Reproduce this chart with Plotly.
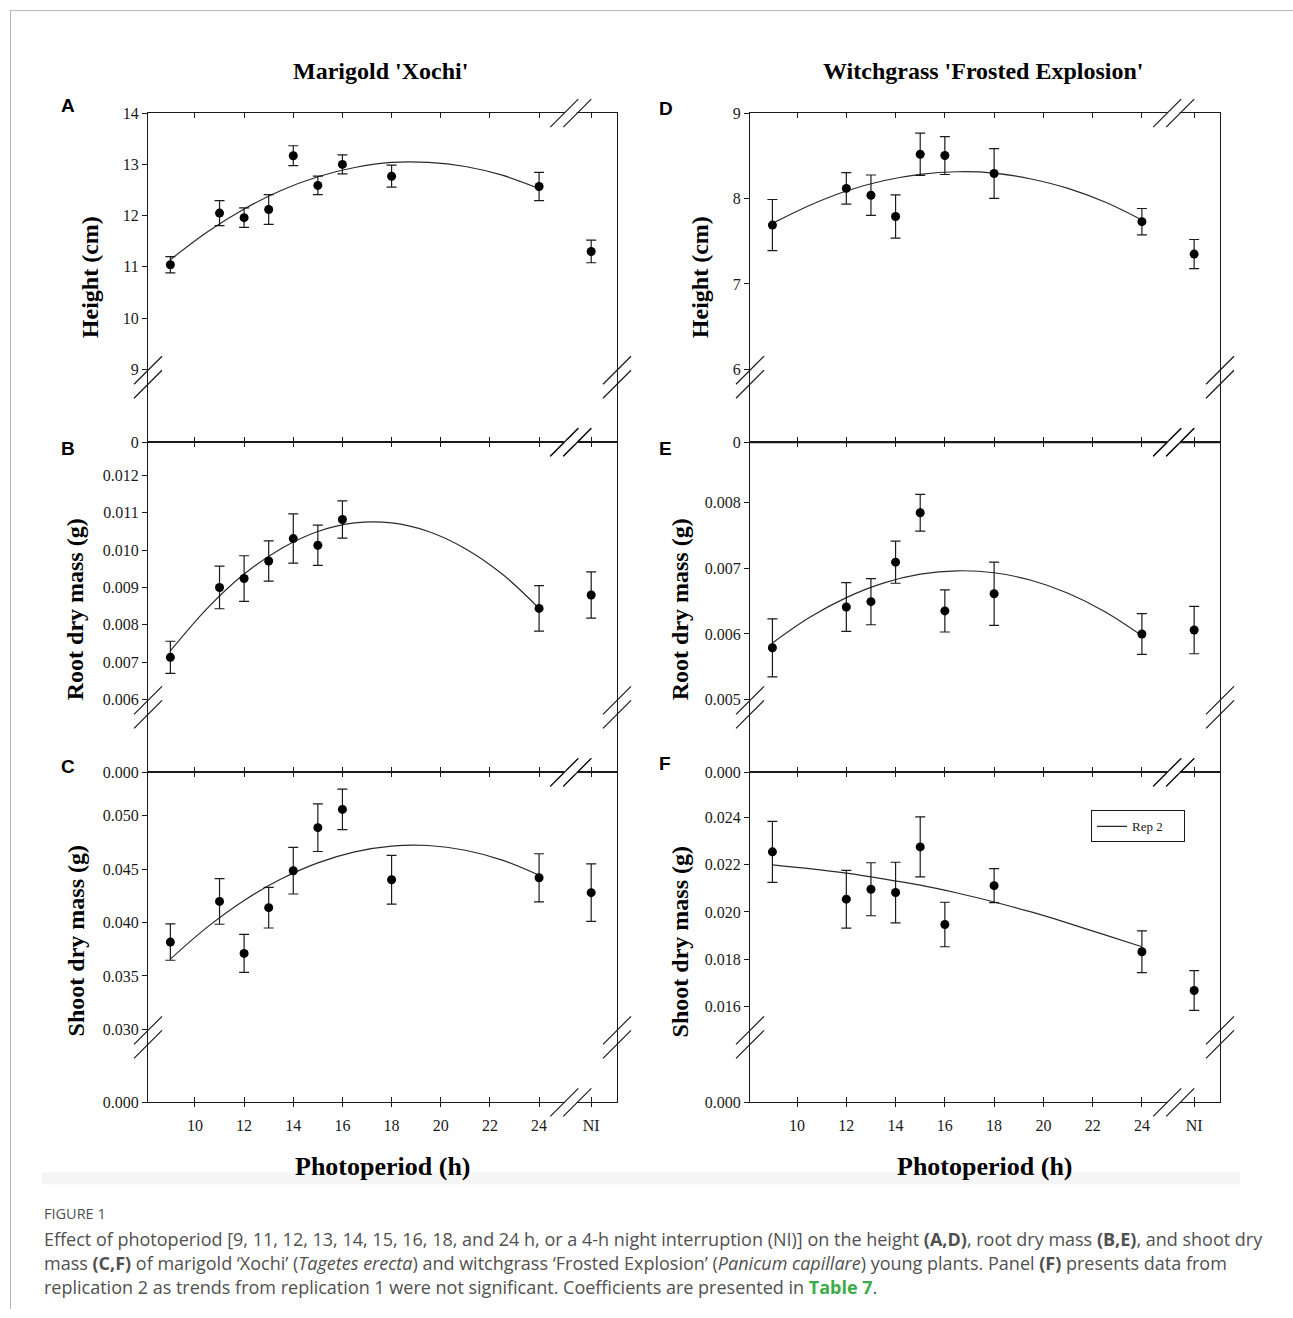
import plotly.graph_objects as go

W, H = 1293, 1318

# ---------------- data ----------------
marigold_hours = [9, 11, 12, 13, 14, 15, 16, 18, 24, "NI"]
witchgrass_hours = [9, 12, 13, 14, 15, 16, 18, 24, "NI"]

x_tick_hours = [10, 12, 14, 16, 18, 20, 22, 24]
x_tick_labels = ["10", "12", "14", "16", "18", "20", "22", "24", "NI"]

marigold_height = [11.04, 12.05, 11.96, 12.12, 13.17, 12.59, 13.00, 12.77, 12.57, 11.30]
marigold_height_se = [0.16, 0.245, 0.19, 0.29, 0.195, 0.18, 0.185, 0.215, 0.275, 0.22]

marigold_root = [0.00713, 0.00900, 0.00924, 0.00971, 0.01031, 0.01013, 0.01082, None, 0.00844, 0.00880]
marigold_root_se = [0.00043, 0.00057, 0.00061, 0.00054, 0.00066, 0.00054, 0.00050, None, 0.00061, 0.00062]

marigold_shoot = [0.03817, 0.04198, 0.03711, 0.04139, 0.04485, 0.04888, 0.05059, 0.04401, 0.04419, 0.04280]
marigold_shoot_se = [0.0017, 0.00214, 0.00178, 0.0019, 0.00218, 0.00223, 0.0019, 0.00228, 0.00225, 0.0027]

witchgrass_height = [7.69, 8.12, 8.04, 7.79, 8.52, 8.505, 8.295, 7.73, 7.35]
witchgrass_height_se = [0.30, 0.185, 0.237, 0.253, 0.247, 0.222, 0.292, 0.154, 0.171]

witchgrass_root = [0.00579, 0.00641, 0.00649, 0.00709, 0.00784, 0.00635, 0.00661, 0.00600, 0.00606]
witchgrass_root_se = [0.00044, 0.00037, 0.00035, 0.00032, 0.00028, 0.00032, 0.00048, 0.00031, 0.00036]

witchgrass_shoot = [0.02254, 0.02054, 0.02096, 0.02082, 0.02275, 0.01947, 0.02111, 0.01832, 0.01668]
witchgrass_shoot_se = [0.00129, 0.00122, 0.00112, 0.00128, 0.00127, 0.00094, 0.00072, 0.00088, 0.00084]

# fitted regression curves
fit_hours = [9, 10.5, 12, 13.5, 15, 16.5, 18, 19.5, 21, 22.5, 24]
fit_marigold_height = [11.14, 11.68, 12.13, 12.49, 12.76, 12.94, 13.04, 13.04, 12.96, 12.79, 12.53]
fit_marigold_root = [0.00730, 0.00844, 0.00936, 0.01004, 0.01050, 0.01073, 0.01073, 0.01050, 0.01004, 0.00936, 0.00844]
fit_marigold_shoot = [0.03658, 0.03957, 0.04207, 0.04407, 0.04559, 0.04662, 0.04716, 0.04721, 0.04677, 0.04584, 0.04442]
fit_witchgrass_height = [7.71, 7.92, 8.09, 8.21, 8.285, 8.315, 8.30, 8.23, 8.12, 7.96, 7.75]
fit_witchgrass_root = [0.005863, 0.006249, 0.006551, 0.006771, 0.006907, 0.006959, 0.006929, 0.006815, 0.006618, 0.006338, 0.005974]
fit_witchgrass_shoot = [0.02199, 0.02183, 0.02164, 0.02140, 0.02113, 0.02080, 0.02042, 0.02000, 0.01953, 0.01903, 0.01853]

height_ticks_marigold = [9, 10, 11, 12, 13, 14]
root_ticks_marigold = [0.006, 0.007, 0.008, 0.009, 0.010, 0.011, 0.012]
shoot_ticks_marigold = [0.030, 0.035, 0.040, 0.045, 0.050]
height_ticks_witchgrass = [6, 7, 8, 9]
root_ticks_witchgrass = [0.005, 0.006, 0.007, 0.008]
shoot_ticks_witchgrass = [0.016, 0.018, 0.020, 0.022, 0.024]

# ---------------- layout constants ----------------
NI_POS = 26.12          # position of the NI category after the axis break
X_BREAK = 25.29
X_RANGE = [8.09, 27.17]
COL_PX = [(148, 617), (750, 1220)]
ROW_PX = [(113, 442), (442, 772), (772, 1102)]
INK = "#1a1a1a"
SERIF = "Liberation Serif"
# the page shows the figure box between these vertical pixel positions
BOX_TOP, BOX_H = 7.9, 1300.6


def px(x):
    return x / W


def py(y):
    return 1 - (y - BOX_TOP) / BOX_H


def pos(h):
    return NI_POS if h == "NI" else h


panels = [
    dict(col=0, row=0, hours=marigold_hours, y=marigold_height, e=marigold_height_se,
         fit=fit_marigold_height, rng=[7.574, 14.002], ticks=height_ticks_marigold,
         fmt="{:g}", zero="0", title="Height (cm)", letter="A",
         title_xy=(90, 277), letter_xy=(68, 105)),
    dict(col=0, row=1, hours=marigold_hours, y=marigold_root, e=marigold_root_se,
         fit=fit_marigold_root, rng=[0.00405, 0.01289], ticks=root_ticks_marigold,
         fmt="{:.3f}", zero="0.000", title="Root dry mass (g)", letter="B",
         title_xy=(75, 609), letter_xy=(68, 448)),
    dict(col=0, row=2, hours=marigold_hours, y=marigold_shoot, e=marigold_shoot_se,
         fit=fit_marigold_shoot, rng=[0.02316, 0.05406], ticks=shoot_ticks_marigold,
         fmt="{:.3f}", zero="0.000", title="Shoot dry mass (g)", letter="C",
         title_xy=(76, 941), letter_xy=(68, 766)),
    dict(col=1, row=0, hours=witchgrass_hours, y=witchgrass_height, e=witchgrass_height_se,
         fit=fit_witchgrass_height, rng=[5.145, 9.002], ticks=height_ticks_witchgrass,
         fmt="{:g}", zero="0", title="Height (cm)", letter="D",
         title_xy=(700, 277), letter_xy=(666, 108)),
    dict(col=1, row=1, hours=witchgrass_hours, y=witchgrass_root, e=witchgrass_root_se,
         fit=fit_witchgrass_root, rng=[0.0039, 0.00891], ticks=root_ticks_witchgrass,
         fmt="{:.3f}", zero="0.000", title="Root dry mass (g)", letter="E",
         title_xy=(680, 609), letter_xy=(665, 448)),
    dict(col=1, row=2, hours=witchgrass_hours, y=witchgrass_shoot, e=witchgrass_shoot_se,
         fit=fit_witchgrass_shoot, rng=[0.01195, 0.0259], ticks=shoot_ticks_witchgrass,
         fmt="{:.3f}", zero="0.000", title="Shoot dry mass (g)", letter="F",
         title_xy=(680, 942), letter_xy=(665, 763)),
]

fig = go.Figure()
layout = {}
shapes = []
annotations = []

# faint band beneath the x titles
shapes.append(dict(type="rect", xref="paper", yref="paper", x0=px(42), x1=px(1240), y0=py(1184), y1=py(1172),
                   fillcolor="#f5f5f5", line=dict(width=0), layer="below"))
# heavier boundary line between panels D and E
shapes.append(dict(type="line", xref="paper", yref="paper", x0=px(COL_PX[1][0]), x1=px(COL_PX[1][1]),
                   y0=py(ROW_PX[0][1]), y1=py(ROW_PX[0][1]), line=dict(color=INK, width=2.2)))

for i, p in enumerate(panels, start=1):
    sfx = "" if i == 1 else str(i)
    xa, ya = "x" + sfx, "y" + sfx
    c0, c1 = COL_PX[p["col"]]
    r0, r1 = ROW_PX[p["row"]]

    pts = [(pos(h), v, e) for h, v, e in zip(p["hours"], p["y"], p["e"]) if v is not None]
    fig.add_trace(go.Scatter(
        x=fit_hours, y=p["fit"], mode="lines", line=dict(color="#2b2b2b", width=1.2, shape="spline"),
        xaxis=xa, yaxis=ya, name="Rep 2&nbsp;&nbsp;&nbsp;&nbsp;&nbsp;", showlegend=(p["letter"] == "F"),
        hoverinfo="skip"))
    fig.add_trace(go.Scatter(
        x=[q[0] for q in pts], y=[q[1] for q in pts], mode="markers",
        marker=dict(color="black", size=9),
        error_y=dict(type="data", array=[q[2] for q in pts], color=INK, thickness=1.2, width=5),
        xaxis=xa, yaxis=ya, showlegend=False, cliponaxis=False))

    bottom = p["row"] == 2
    layout["xaxis" + sfx] = dict(
        domain=[px(c0), px(c1)], anchor=ya, range=X_RANGE,
        tickvals=x_tick_hours + [NI_POS], ticktext=x_tick_labels,
        ticks="inside", ticklen=5, tickwidth=1.2, tickcolor=INK,
        showticklabels=False, showline=True, linecolor=INK, linewidth=1.3,
        mirror="ticks", showgrid=False, zeroline=False)
    span = p["rng"][1] - p["rng"][0]
    layout["yaxis" + sfx] = dict(
        domain=[py(r1), py(r0)], anchor=xa, range=p["rng"],
        tickvals=[p["rng"][0] + span * 1e-5] + p["ticks"],
        ticktext=[p["zero"]] + [p["fmt"].format(t) for t in p["ticks"]],
        ticks="outside", ticklen=5, tickwidth=1.2, tickcolor=INK,
        tickfont=dict(family=SERIF, size=16, color=INK),
        showline=True, linecolor=INK, linewidth=1.3, mirror=True,
        showgrid=False, zeroline=False)

    tx, ty = p["title_xy"]
    annotations.append(dict(
        text="<b>%s</b>" % p["title"], x=px(tx), y=py(ty),
        xref="paper", yref="paper", textangle=-90, showarrow=False,
        font=dict(family=SERIF, size=24, color="black"), xanchor="center", yanchor="middle"))
    lx, ly = p["letter_xy"]
    annotations.append(dict(
        text="<b>%s</b>" % p["letter"], x=px(lx), y=py(ly),
        xref="paper", yref="paper", showarrow=False,
        font=dict(family="Liberation Sans", size=19, color="black"), xanchor="center", yanchor="middle"))

    # y-axis break marks on both spines
    for sx in (c0, c1):
        for off in (58, 72):
            cy = r1 - off
            shapes.append(dict(type="line", xref="paper", yref="paper",
                               x0=px(sx - 14), y0=py(cy + 14), x1=px(sx + 14), y1=py(cy - 14),
                               line=dict(color=INK, width=1.2)))

    # x-axis break marks on top and bottom spines
    xb = c0 + (X_BREAK - X_RANGE[0]) / (X_RANGE[1] - X_RANGE[0]) * (c1 - c0)
    for sy in (r0, r1):
        shapes.append(dict(type="line", xref="paper", yref="paper",
                           x0=px(xb - 6), y0=py(sy), x1=px(xb + 6), y1=py(sy),
                           line=dict(color="white", width=4)))
        for off in (-6.5, 6.5):
            shapes.append(dict(type="line", xref="paper", yref="paper",
                               x0=px(xb + off - 14), y0=py(sy + 14), x1=px(xb + off + 14), y1=py(sy - 14),
                               line=dict(color=INK, width=1.2)))

    if bottom:
        # overlay axis giving outward ticks and labels at the bottom
        ov = "x" + str(6 + (1 if p["letter"] == "C" else 2))
        fig.add_trace(go.Scatter(x=[None], y=[None], xaxis=ov, yaxis=ya, showlegend=False,
                                 hoverinfo="skip"))
        layout["xaxis" + ov[1:]] = dict(
            overlaying=xa, anchor=ya, side="bottom", range=X_RANGE,
            tickvals=x_tick_hours + [NI_POS], ticktext=x_tick_labels,
            ticks="outside", ticklen=4, tickwidth=1.2, tickcolor=INK,
            tickfont=dict(family=SERIF, size=16, color=INK), ticklabelstandoff=4,
            showline=False, showgrid=False, zeroline=False)

# column titles and x titles
for (c0, c1), t in zip(COL_PX, ["Marigold 'Xochi'", "Witchgrass 'Frosted Explosion'"]):
    annotations.append(dict(text="<b>%s</b>" % t, x=px((c0 + c1) / 2 - 2), y=py(71), xref="paper", yref="paper",
                            showarrow=False, font=dict(family=SERIF, size=24, color="black"),
                            xanchor="center", yanchor="middle"))
    annotations.append(dict(text="<b>Photoperiod (h)</b>", x=px((c0 + c1) / 2), y=py(1166), xref="paper",
                            yref="paper", showarrow=False, font=dict(family=SERIF, size=26, color="black"),
                            xanchor="center", yanchor="middle"))

# figure frame lines
shapes.append(dict(type="line", xref="paper", yref="paper", x0=px(10), x1=1, y0=py(10.5), y1=py(10.5),
                   line=dict(color="#b5b5b5", width=1)))
shapes.append(dict(type="line", xref="paper", yref="paper", x0=px(10.5), x1=px(10.5), y0=py(10), y1=0,
                   line=dict(color="#b5b5b5", width=1)))

# caption
CAP = "Open Sans"
CAP_COLOR = "#505050"
caption_lines = [
    "Effect of photoperiod [9, 11, 12, 13, 14, 15, 16, 18, and 24 h, or a 4-h night interruption (NI)] on the height "
    "<b>(A,D)</b>, root dry mass <b>(B,E)</b>, and shoot dry",
    "mass <b>(C,F)</b> of marigold ‘Xochi’ (<i>Tagetes erecta</i>) and witchgrass ‘Frosted Explosion’ "
    "(<i>Panicum capillare</i>) young plants. Panel <b>(F)</b> presents data from",
    "replication 2 as trends from replication 1 were not significant. Coefficients are presented in "
    "<b><span style='color:#3dab4a'>Table 7</span></b>.",
]
annotations.append(dict(text="FIGURE 1", x=px(42), y=py(1213), xref="paper", yref="paper", showarrow=False,
                        font=dict(family=CAP, size=14.5, color=CAP_COLOR), xanchor="left", yanchor="middle"))
for k, line in enumerate(caption_lines):
    annotations.append(dict(text=line, x=px(42), y=py(1239 + 24 * k), xref="paper", yref="paper",
                            showarrow=False, font=dict(family=CAP, size=18, color=CAP_COLOR),
                            xanchor="left", yanchor="middle"))

fig.update_layout(
    width=W, height=H, margin=dict(l=0, r=0, t=0, b=0),
    paper_bgcolor="white", plot_bgcolor="white",
    shapes=shapes, annotations=annotations,
    legend=dict(x=px(1091), y=py(810), xanchor="left", yanchor="top", bgcolor="white",
                bordercolor=INK, borderwidth=1, font=dict(family=SERIF, size=13, color=INK),
                itemwidth=30),
    **layout,
)

fig.write_html("out.html")
